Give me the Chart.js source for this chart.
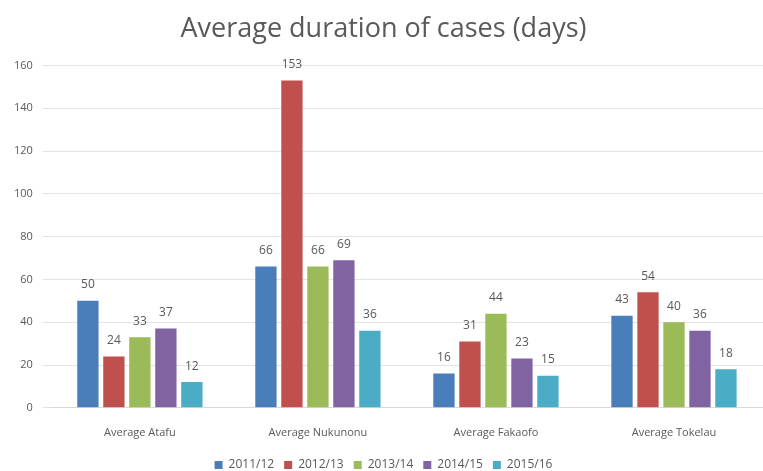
<!DOCTYPE html>
<html>
<head>
<meta charset="utf-8">
<script src="https://cdn.jsdelivr.net/npm/chart.js@4/dist/chart.umd.min.js"></script>
<style>
  html, body { margin: 0; padding: 0; background: #fff; }
  #wrap { width: 763px; height: 471px; }
</style>
</head>
<body>
<div id="wrap"><canvas id="durationChart"></canvas></div>
<script>
// Chart data
const categories = ["Average Atafu", "Average Nukunonu", "Average Fakaofo", "Average Tokelau"];
const seriesNames = ["2011/12", "2012/13", "2013/14", "2014/15", "2015/16"];
const values2011 = [50, 66, 16, 43];
const values2012 = [24, 153, 31, 54];
const values2013 = [33, 66, 44, 40];
const values2014 = [37, 69, 23, 36];
const values2015 = [12, 36, 15, 18];
const seriesColors = ["#4a7ebb", "#c0504d", "#9bbb59", "#8064a2", "#4bacc6"];

// draw value labels above each bar
const barLabels = {
    id: "barLabels",
    afterDatasetsDraw(chart) {
        let ctx = chart.ctx;
        ctx.save();
        ctx.font = "12px 'Open Sans', sans-serif";
        ctx.fillStyle = "#595959";
        ctx.textAlign = "center";
        ctx.textBaseline = "bottom";
        chart.data.datasets.forEach((ds, i) => {
            chart.getDatasetMeta(i).data.forEach((bar, j) => {
                ctx.fillText(ds.data[j], bar.x, bar.y - 10);
            });
        });
        ctx.restore();
    }
};

let allValues = [values2011, values2012, values2013, values2014, values2015];

let ctx = document.getElementById("durationChart").getContext("2d");
new Chart(ctx, {
    type: "bar",
    data: {
        labels: categories,
        datasets: seriesNames.map((name, i) => ({
            label: name,
            data: allValues[i],
            backgroundColor: seriesColors[i],
            categoryPercentage: 0.73,
            barPercentage: 0.82
        }))
    },
    options: {
        responsive: true,
        maintainAspectRatio: false,
        animation: false,
        layout: { padding: { left: 4, right: 0, top: 0, bottom: -10 } },
        plugins: {
            title: {
                display: true,
                text: "Average duration of cases (days)",
                color: "#595959",
                font: { family: "'Open Sans', sans-serif", size: 27, weight: "normal" },
                padding: { top: 13, bottom: 20 }
            },
            legend: {
                position: "bottom",
                labels: {
                    color: "#595959",
                    font: { family: "'Open Sans', sans-serif", size: 12 },
                    boxWidth: 8,
                    boxHeight: 8,
                    padding: 10
                }
            },
            tooltip: { enabled: false }
        },
        scales: {
            x: {
                grid: { display: false },
                border: { color: "#d9d9d9" },
                ticks: {
                    color: "#595959",
                    font: { family: "'Open Sans', sans-serif", size: 11 },
                    padding: 10
                }
            },
            y: {
                min: 0,
                max: 160,
                ticks: {
                    stepSize: 20,
                    color: "#595959",
                    font: { family: "'Open Sans', sans-serif", size: 11 },
                    padding: 10
                },
                grid: { color: "#e3e3e3" },
                border: { display: false }
            }
        }
    },
    plugins: [barLabels]
});
</script>
</body>
</html>
